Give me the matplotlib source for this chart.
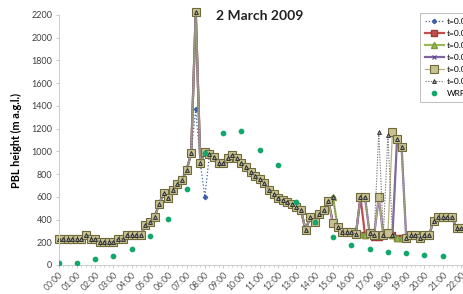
import numpy as np
import matplotlib
matplotlib.use("Agg")
import matplotlib.pyplot as plt
from matplotlib.ticker import MultipleLocator

plt.rcParams['font.family'] = ['Lato', 'DejaVu Sans']

# ---------------- data ----------------
step_hours = 0.25  # lidar sampling interval (15 min)

# PBL height common to all lidar retrievals (m a.g.l.), every 15 min from 00:00
base_pbl = [230, 230, 230, 230, 230, 230, 262, 232, 232, 205,
            205, 205, 205, 232, 232, 262, 262, 262, 262, 352,
            381, 420, 540, 631, 590, 660, 710, 748, 836, 983,
            2230, 895, 997, 977, 953, 895, 895, 938, 968, 938,
            900, 866, 821, 785, 754, 719, 660, 625, 590, 572,
            555, 535, 510, 484, 308, 420, 381, 445, 484, 560,
            595, 337, 293, 293, 293, 270, 270, 264, 279, 264,
            264, 264, 279, 264, 235, 235, 235, 264, 264, 235,
            264, 264, 390, 420, 420, 420, 420, 323, 323]

# where a retrieval departs from the common values: {hour: value}
t1_diff = {7.5: 1373, 8.0: 600}
t2_diff = {15.0: 367, 16.5: 595, 17.25: 249, 17.5: 249}
t3_diff = {}
t4_diff = {15.0: 367, 16.5: 595, 16.75: 595, 17.5: 595, 18.5: 1110, 18.75: 1040}
t5_diff = {15.0: 367, 16.5: 595, 16.75: 595, 17.5: 595, 18.25: 1170, 18.5: 1110, 18.75: 1040}
t6_diff = {16.5: 595, 16.75: 595, 17.5: 1170, 18.0: 1140, 18.5: 1110, 18.75: 1040}

series_labels = ["t=0.001", "t=0.002", "t=0.003", "t=0.004", "t=0.005", "t=0.006"]

# WRF model PBL height, hourly
wrf_hours = [0, 1, 2, 3, 4, 5, 6, 7, 8, 9, 10, 11, 12, 13, 14, 15, 16, 17, 18, 19, 20, 21]
wrf_pbl = [20, 20, 50, 79, 144, 255, 402, 669, 983, 1165, 1182, 1012, 880, 557,
           381, 249, 179, 138, 114, 103, 86, 80]

hour_labels = ["%02d:00" % h for h in range(23)]

# ---------------- build series ----------------
times = np.arange(len(base_pbl)) * step_hours


def build(diff):
    vals = list(base_pbl)
    for t, v in diff.items():
        vals[int(round(t / step_hours))] = v
    return vals


diffs = [t1_diff, t2_diff, t3_diff, t4_diff, t5_diff, t6_diff]
styles = [
    dict(color='#3F5FA8', lw=0.9, ls=':', marker='D', ms=2.2, mfc='#3F5FA8', mec='#3F5FA8'),
    dict(color='#C0504D', lw=1.6, ls='-', marker='s', ms=4.0, mfc='#C0504D', mec='#A03A37'),
    dict(color='#9BBB59', lw=1.6, ls='-', marker='^', ms=4.0, mfc='#9BBB59', mec='#7A9A3A'),
    dict(color='#8064A2', lw=1.6, ls='-', marker='x', ms=3.5, mew=0.8, mec='#5E4880'),
    dict(color='#B7B27A', lw=0.9, ls='-', marker='s', ms=5.6, mfc='#C8C190', mec='#6E6A3C', mew=0.8),
    dict(color='#7F7F7F', lw=0.8, ls=(0, (1.2, 1.2)), marker='^', ms=2.8, mfc='#9A9A9A', mec='#222222', mew=0.6),
]

W, H = 463, 294
fig = plt.figure(figsize=(W / 100, H / 100), dpi=100)
x0 = 58.5
px_per_hour = 18.3
xmax = 23.0
y_top, y_bot = 15, 265
ax = fig.add_axes([x0 / W, 1 - y_bot / H, xmax * px_per_hour / W, (y_bot - y_top) / H])

handles = []
for d, st, lab in zip(diffs, styles, series_labels):
    h, = ax.plot(times, build(d), label=lab, clip_on=False, **st)
    handles.append(h)

hw, = ax.plot(wrf_hours, wrf_pbl, ls='none', marker='o', ms=3.1, color='#12A86B',
              mec='#12A86B', label='WRF', zorder=5)
handles.append(hw)

ax.set_xlim(0, xmax)
ax.set_ylim(0, 2200)
ax.yaxis.set_major_locator(MultipleLocator(200))
ax.set_xticks(range(23))
ax.set_xticklabels(hour_labels, rotation=45, ha='right', rotation_mode='anchor',
                   fontsize=6.2, color='#505050')
ax.xaxis.set_minor_locator(MultipleLocator(step_hours))
ax.tick_params(axis='y', labelsize=6.5, colors='#BFBFBF', labelcolor='#404040',
               length=2.5, width=0.6, pad=2)
ax.tick_params(axis='x', which='major', colors='#BFBFBF', labelcolor='#505050',
               length=2.5, width=0.6, pad=1.5)
ax.tick_params(axis='x', which='minor', colors='#BFBFBF', length=1.5, width=0.5)

for s in ['top', 'right']:
    ax.spines[s].set_visible(False)
for s in ['left', 'bottom']:
    ax.spines[s].set_color('#D0D0D0')
    ax.spines[s].set_linewidth(0.8)

ax.set_ylabel('PBL height (m a.g.l.)', fontsize=7.8, fontweight='bold', labelpad=6)
ax.yaxis.set_label_coords(-(x0 - 21.5) / (xmax * px_per_hour), 0.5)

fig.text(260 / W, 1 - 16 / H, '2 March 2009', fontsize=10, fontweight='bold',
         ha='center', va='center', color='#222222')

leg = fig.legend(handles=handles, loc='upper left', bbox_to_anchor=(416 / W, 1 - 9 / H),
                 fontsize=6, frameon=True, fancybox=False, edgecolor='#A0A0A0',
                 handlelength=2.2, labelspacing=0.6, borderpad=0.6, handletextpad=0.4)
leg.get_frame().set_linewidth(0.6)

fig.savefig('out.png', dpi=100)
